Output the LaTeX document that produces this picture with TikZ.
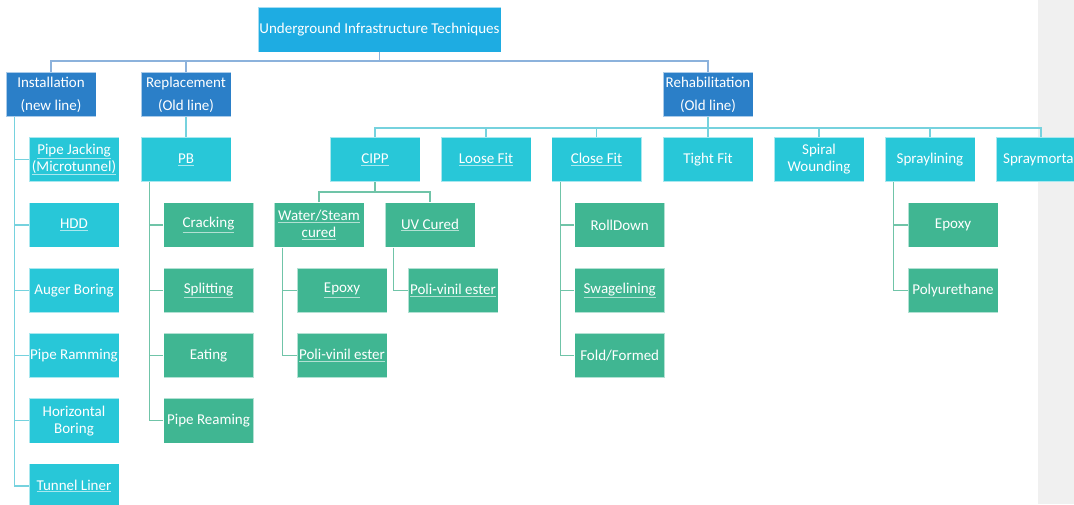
\documentclass[tikz,border=0pt]{standalone}
\usepackage{fontspec}
\setmainfont{Carlito}

\definecolor{topblue}{RGB}{30,172,226}
\definecolor{darkblue}{RGB}{43,127,200}
\definecolor{techcyan}{RGB}{40,199,216}
\definecolor{subgreen}{RGB}{64,182,146}
\definecolor{busblue}{RGB}{140,178,220}
\definecolor{buscyan}{RGB}{118,210,222}
\definecolor{busgreen}{RGB}{112,196,168}
\definecolor{sidegray}{RGB}{240,240,240}

\tikzset{
  box/.style={minimum width=90pt, minimum height=44.5pt, inner sep=1pt,
    draw=white, draw opacity=0.6, line width=0.6pt, text=white, align=center,
    font=\fontsize{15}{17}\selectfont},
  topbox/.style={box, fill=topblue, minimum width=243pt, minimum height=45pt},
  mainbox/.style={box, fill=darkblue},
  techbox/.style={box, fill=techcyan},
  subbox/.style={box, fill=subgreen},
  bus/.style={line width=1.2pt, draw=#1}
}
\newcommand{\lnk}[1]{\underline{#1}}

\begin{document}
\begin{tikzpicture}[x=1pt, y=-1pt]
\useasboundingbox (0,0) rectangle (1074,504);
\clip (0,0) rectangle (1074,504);
\fill[sidegray] (1038,0) rectangle (1074,504);

\node[topbox] (top) at (379.5,29.5) {Underground Infrastructure Techniques};

\node[mainbox] (inst) at (51,94.5) {Installation\\[6pt](new line)};
\node[mainbox] (repl) at (186,94.5) {Replacement\\[6pt](Old line)};
\node[mainbox] (rehab) at (708,94.5) {Rehabilitation\\[6pt](Old line)};

% installation (new line)
\node[techbox] (pj) at (74,159.5) {\lnk{Pipe Jacking}\\\lnk{(Microtunnel)}};
\node[techbox] (hdd) at (74,225) {\lnk{HDD}};
\node[techbox] (auger) at (74,290.3) {Auger Boring};
\node[techbox] (ramming) at (74,355.5) {Pipe Ramming};
\node[techbox] (hboring) at (74,420.7) {Horizontal\\Boring};
\node[techbox] (tunnel) at (74,486) {\lnk{Tunnel Liner}};

% replacement
\node[techbox] (pb) at (186,159.5) {\lnk{PB}};
\node[subbox] (cracking) at (208.5,225) {\lnk{Cracking}};
\node[subbox] (splitting) at (208.5,290.3) {\lnk{Splitting}};
\node[subbox] (eating) at (208.5,355.5) {Eating};
\node[subbox] (reaming) at (208.5,420.7) {Pipe Reaming};

% rehabilitation
\node[techbox] (cipp) at (375,159.5) {\lnk{CIPP}};
\node[techbox] (loose) at (486,159.5) {\lnk{Loose Fit}};
\node[techbox] (close) at (596.5,159.5) {\lnk{Close Fit}};
\node[techbox] (tight) at (708,159.5) {Tight Fit};
\node[techbox] (spiral) at (819,159.5) {Spiral\\Wounding};
\node[techbox] (sprayl) at (930,159.5) {Spraylining};
\node[techbox] (spraym) at (1041,159.5) {Spraymortar};

\node[subbox] (water) at (319,225) {\lnk{Water/Steam}\\\lnk{cured}};
\node[subbox] (uv) at (430,225) {\lnk{UV Cured}};
\node[subbox] (wepoxy) at (342,290.3) {\lnk{Epoxy}};
\node[subbox] (wpve) at (342,355.5) {\lnk{Poli-vinil ester}};
\node[subbox] (uvpve) at (453,290.3) {\lnk{Poli-vinil ester}};

\node[subbox] (rolldown) at (619.7,225) {RollDown};
\node[subbox] (swage) at (619.7,290.3) {\lnk{Swagelining}};
\node[subbox] (fold) at (619.7,355.5) {Fold/Formed};

\node[subbox] (sepoxy) at (953,225) {Epoxy};
\node[subbox] (spu) at (953,290.3) {Polyurethane};

\coordinate (bus1) at (379.5,61);
\coordinate (bus2) at (708,128);
\coordinate (bus3) at (375,192);

\draw[bus=busblue] (top.south) -- (bus1);
\draw[bus=busblue] (inst.north) |- (bus1) -| (rehab.north);
\draw[bus=busblue] (repl.north) -- (repl.north |- bus1);

\draw[bus=buscyan] ([xshift=8.5pt]inst.south west) |- (tunnel.west);
\foreach \n in {pj,hdd,auger,ramming,hboring}
  \draw[bus=buscyan] ([xshift=8.5pt]inst.south west |- \n.west) -- (\n.west);

\draw[bus=buscyan] (repl.south) -- (pb.north);
\draw[bus=busgreen] ([xshift=8.5pt]pb.south west) |- (reaming.west);
\foreach \n in {cracking,splitting,eating}
  \draw[bus=busgreen] ([xshift=8.5pt]pb.south west |- \n.west) -- (\n.west);

\draw[bus=buscyan] (rehab.south) -- (tight.north);
\draw[bus=buscyan] (cipp.north) |- (bus2) -| (spraym.north);
\foreach \n in {loose,close,spiral,sprayl}
  \draw[bus=buscyan] (\n.north) -- (\n.north |- bus2);

\draw[bus=busgreen] (cipp.south) -- (bus3);
\draw[bus=busgreen] (water.north) |- (bus3) -| (uv.north);
\draw[bus=busgreen] ([xshift=8.5pt]water.south west) |- (wpve.west);
\draw[bus=busgreen] ([xshift=8.5pt]water.south west |- wepoxy.west) -- (wepoxy.west);
\draw[bus=busgreen] ([xshift=8.5pt]uv.south west) |- (uvpve.west);

\draw[bus=busgreen] ([xshift=9pt]close.south west) |- (fold.west);
\foreach \n in {rolldown,swage}
  \draw[bus=busgreen] ([xshift=9pt]close.south west |- \n.west) -- (\n.west);

\draw[bus=busgreen] ([xshift=8.5pt]sprayl.south west) |- (spu.west);
\draw[bus=busgreen] ([xshift=8.5pt]sprayl.south west |- sepoxy.west) -- (sepoxy.west);
\end{tikzpicture}
\end{document}
